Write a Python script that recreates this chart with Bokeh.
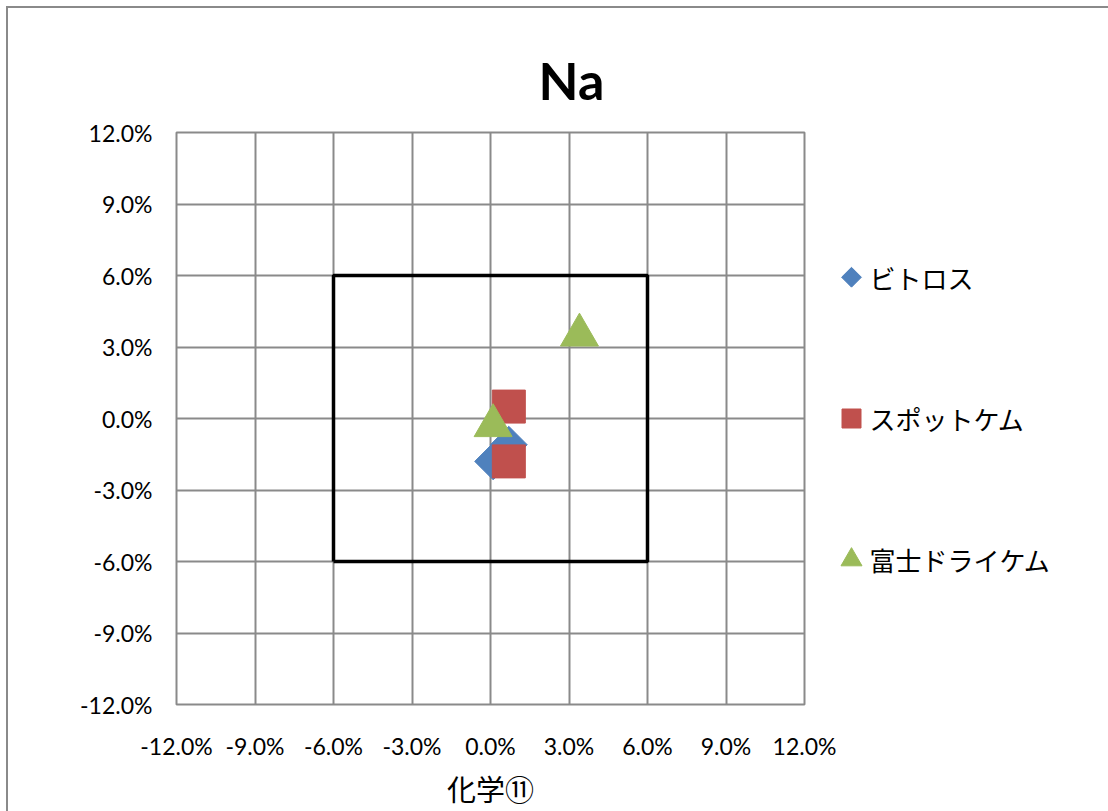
from bokeh.plotting import figure
from bokeh.models import FixedTicker, NumeralTickFormatter
from bokeh.layouts import row
from bokeh.core.properties import value
from bokeh.embed import file_html
from bokeh.resources import INLINE
import math

# ---- data (fractions, shown as %) ----
series_names = ["ビトロス", "スポットケム", "富士ドライケム"]
vitros_x = [0.001, 0.007]
vitros_y = [-0.018, -0.011]
spotchem_x = [0.007, 0.007]
spotchem_y = [0.005, -0.018]
fuji_x = [0.001, 0.034]
fuji_y = [-0.003, 0.035]
tick_values = [-0.12, -0.09, -0.06, -0.03, 0.0, 0.03, 0.06, 0.09, 0.12]
box_x = [-0.06, 0.06, 0.06, -0.06, -0.06]
box_y = [-0.06, -0.06, 0.06, 0.06, -0.06]
chart_title = "Na"
x_title = "化学⑪"

colors = ["#4F81BD", "#C0504D", "#9BBB59"]
GRID = "#8a8a8a"
H = 803
FRAME_H = 573
MAIN_W = 830
LEG_W = 270

p = figure(width=MAIN_W, height=H, x_range=(-0.12, 0.12), y_range=(-0.12, 0.12),
           output_backend="svg", toolbar_location=None,
           min_border_left=168, min_border_right=34, min_border_top=124, min_border_bottom=106)

p.outline_line_color = GRID
p.outline_line_width = 2

for ax in (p.xaxis[0], p.yaxis[0]):
    ax.ticker = FixedTicker(ticks=tick_values)
    ax.formatter = NumeralTickFormatter(format="0.0%")
    ax.axis_line_color = None
    ax.major_tick_line_color = None
    ax.minor_tick_line_color = None
    ax.major_tick_out = 0
    ax.major_tick_in = 0
    ax.major_label_text_font = "Lato"
    ax.major_label_text_font_size = "23px"
    ax.major_label_text_color = "black"

p.yaxis.major_label_standoff = 24
p.xaxis.major_label_standoff = 27
p.xaxis.axis_label = x_title
p.xaxis.axis_label_text_font = "Noto Sans CJK JP"
p.xaxis.axis_label_text_font_size = "29px"
p.xaxis.axis_label_text_font_style = "normal"
p.xaxis.axis_label_text_color = "black"
p.xaxis.axis_label_standoff = 4

for g in (p.xgrid[0], p.ygrid[0]):
    g.ticker = FixedTicker(ticks=tick_values)
    g.grid_line_color = GRID
    g.grid_line_width = 2

p.title.text = chart_title
p.title.text_font = "Lato"
p.title.text_font_size = "52px"
p.title.text_font_style = "bold"
p.title.text_color = "black"
p.title.align = "left"
p.title.offset = 362
p.title.standoff = 44

p.line(box_x, box_y, line_color="black", line_width=3.5)

p.scatter(vitros_x, vitros_y, marker="square", size=26, angle=math.pi / 4,
          fill_color=colors[0], line_color=colors[0])
p.scatter(spotchem_x, spotchem_y, marker="square", size=33,
          fill_color=colors[1], line_color=colors[1])
p.scatter(fuji_x, fuji_y, marker="triangle", size=38,
          fill_color=colors[2], line_color=colors[2])

# ---- legend panel (pixel-like layout coordinates, frame aligned with main frame) ----
leg = figure(width=LEG_W, height=H, x_range=(0, LEG_W), y_range=(0, FRAME_H),
             output_backend="svg", toolbar_location=None,
             x_axis_type=None, y_axis_type=None,
             min_border_left=0, min_border_right=0, min_border_top=0, min_border_bottom=0)
leg.outline_line_color = None
leg.xgrid.visible = False
leg.ygrid.visible = False

leg_top = FRAME_H - 145
leg_step = 141.5
item_y = [leg_top - i * leg_step for i in range(3)]
mark_x = 13
text_x = 31
markers = ["square", "square", "triangle"]
sizes = [14, 19, 21]
angles = [math.pi / 4, 0, 0]
for i in range(3):
    leg.scatter([mark_x], [item_y[i]], marker=markers[i], size=sizes[i], angle=angles[i],
                fill_color=colors[i], line_color=colors[i])
leg.text([text_x] * 3, item_y, text=series_names, text_font=value("Noto Sans CJK JP"),
         text_font_size="26px", text_baseline="middle", text_align="left", text_color="black")

layout = row(p, leg, spacing=0)
layout.styles = {"margin-left": "6px", "margin-top": "6px",
                 "border-left": "2px solid #8a8a8a", "border-top": "2px solid #8a8a8a"}

open("out.html", "w").write(file_html(layout, INLINE))
